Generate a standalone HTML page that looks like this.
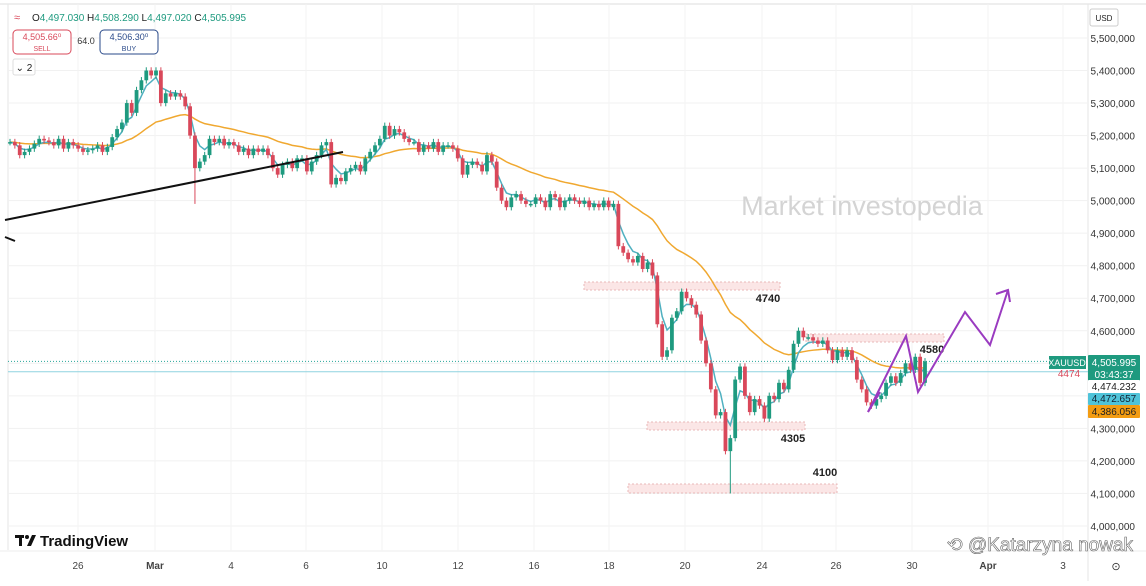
<!DOCTYPE html>
<html><head><meta charset="utf-8"><style>
body{margin:0;width:1146px;height:581px;overflow:hidden;background:#fff;font-family:"Liberation Sans",sans-serif}
svg text{font-family:"Liberation Sans",sans-serif}
</style></head><body>
<svg id="c" width="1146" height="581" xmlns="http://www.w3.org/2000/svg"></svg>
<script>
const closes=[5180,5170,5140,5150,5160,5175,5190,5185,5180,5170,5190,5160,5180,5170,5160,5150,5155,5160,5170,5150,5165,5195,5220,5240,5300,5270,5340,5370,5400,5385,5400,5300,5330,5320,5330,5320,5290,5200,5100,5120,5140,5190,5180,5190,5170,5180,5170,5150,5160,5140,5160,5150,5160,5140,5100,5080,5110,5120,5100,5130,5130,5090,5120,5140,5170,5180,5050,5070,5060,5090,5100,5110,5090,5130,5150,5170,5190,5230,5200,5220,5210,5190,5180,5180,5150,5170,5160,5180,5150,5170,5170,5160,5130,5080,5110,5120,5110,5090,5140,5120,5040,5000,4980,5010,5020,5000,4990,4990,5010,5000,4980,5020,5010,4980,5000,5010,5000,4990,5000,4980,4990,4980,5000,4980,4990,4860,4840,4820,4810,4830,4790,4810,4770,4620,4520,4540,4640,4660,4720,4700,4680,4650,4570,4500,4420,4340,4350,4230,4270,4450,4490,4400,4350,4390,4370,4330,4400,4390,4440,4420,4480,4560,4600,4580,4580,4570,4560,4570,4540,4510,4540,4520,4540,4510,4450,4420,4380,4370,4390,4400,4440,4460,4440,4470,4500,4480,4520,4440,4506];
const spikeIdx=[38,148];
const spikeLow=[4990,4100];
const priceTicks=[5500,5400,5300,5200,5100,5000,4900,4800,4700,4600,4500,4400,4300,4200,4100,4000];
const dateLabels=["26","Mar","4","6","10","12","16","18","20","24","26","30","Apr","3"];
const dateX=[78,155,231,306,382,458,534,609,685,762,836,912,988,1063];
const S=document.getElementById('c');const NS='http://www.w3.org/2000/svg';
function y(p){return 38+(5500-p)*0.3253}
const x0=10,x1=925;function x(i){return x0+i*(x1-x0)/(closes.length-1)}
function el(t,a,p){const e=document.createElementNS(NS,t);for(const k in a)e.setAttribute(k,a[k]);(p||S).appendChild(e);return e}
function tx(s,a){const e=el('text',a);e.textContent=s;return e}
let e=el('rect',{x:0,y:0,width:1146,height:581,fill:'#fff'});
e=el('line',{x1:0,y1:4,x2:1146,y2:4,stroke:'#ddd'});
e=el('line',{x1:8,y1:4,x2:8,y2:550,stroke:'#e6e6e6'});
e=el('line',{x1:0,y1:551,x2:1146,y2:551,stroke:'#eee'});
e=el('line',{x1:1088,y1:4,x2:1088,y2:581,stroke:'#e6e6e6'});
priceTicks.forEach(p=>{
 const g=el('line',{x1:8,y1:y(p),x2:1088,y2:y(p),stroke:'#f1f1f1'});
 
 const t=tx((p*1000).toLocaleString('en-US'),{x:1135,y:y(p)+4,'font-size':10,fill:'#333','text-anchor':'end'});
 
});
dateLabels.forEach((d,i)=>{
 const g=el('line',{x1:dateX[i],y1:4,x2:dateX[i],y2:551,stroke:'#f3f3f3'});
 
 const t=tx(d,{x:dateX[i],y:569,'font-size':10,fill:'#444','text-anchor':'middle','font-weight':d=='Mar'||d=='Apr'?'bold':'normal'});
 
});
e=tx('Market investopedia',{x:862,y:215,'font-size':27,fill:'#d4d4d4','text-anchor':'middle'});

[[584,282,196,8],[806,334,138,8],[647,422,158,8],[628,484,209,9]].forEach(r=>{
 const z=el('rect',{x:r[0],y:r[1],width:r[2],height:r[3],fill:'#fbe6e6',stroke:'#e8b8b8','stroke-dasharray':'2,2'});
 
});
[['4740',768,302],['4305',793,442],['4100',825,476],['4580',932,353]].forEach(a=>{
 const t=tx(a[0],{x:a[1],y:a[2],'font-size':11,'font-weight':'bold',fill:'#222','text-anchor':'middle'});
 
});
e=el('line',{x1:8,y1:y(4506),x2:1088,y2:y(4506),stroke:'#26a69a','stroke-dasharray':'1,2'});

e=el('line',{x1:8,y1:y(4474),x2:1088,y2:y(4474),stroke:'#8fd3e0'});

function ema(n){const k=2/(n+1);let v=closes[0],o=[];closes.forEach(c=>{v=c*k+v*(1-k);o.push(v)});return o}
[[ema(32),'#f0a830'],[ema(4),'#4fb0c0']].forEach(m=>{
 const p=el('polyline',{points:m[0].map((v,i)=>x(i)+','+y(v)).join(' '),fill:'none',stroke:m[1],'stroke-width':1.5});
 
});
const w=(x1-x0)/(closes.length-1)*0.78;
closes.forEach((c,i)=>{
 const o=i?closes[i-1]:c;let hi=Math.max(o,c)+10,lo=Math.min(o,c)-10;
 const si=spikeIdx.indexOf(i);if(si>=0)lo=spikeLow[si];
 const col=c>=o?'#1e9a7f':'#d9485a';
 const g=el('g',{});
 
 el('line',{x1:x(i),y1:y(hi),x2:x(i),y2:y(lo),stroke:col},g);
 el('rect',{x:x(i)-w/2,y:y(Math.max(o,c)),width:w,height:Math.max(1.5,Math.abs(y(o)-y(c))),fill:col},g);
});
e=el('line',{x1:5,y1:220,x2:343,y2:152,stroke:'#111','stroke-width':2});

e=el('line',{x1:5,y1:237,x2:15,y2:241,stroke:'#111','stroke-width':2});
e=el('polyline',{points:'868,412 906,336 918,392 965,312 990,345 1008,290',fill:'none',stroke:'#9a3bc0','stroke-width':2});

e=el('polyline',{points:'996,294 1008,290 1010,302',fill:'none',stroke:'#9a3bc0','stroke-width':2});
e=el('line',{x1:868,y1:412,x2:880,y2:392,stroke:'#9a3bc0','stroke-width':2});
function box(x0,y0,w,h,bg,t,fc,nm,ty){const g=el('g',{});
 el('rect',{x:x0,y:y0,width:w,height:h,fill:bg,rx:1},g);const s=el('text',{x:x0+w/2,y:ty||y0+h-3,'font-size':10,fill:fc,'text-anchor':'middle'},g);s.textContent=t;}
e=el('rect',{x:1049,y:356,width:37,height:13,fill:'#1e9a7f'});
e=tx('XAUUSD',{x:1067,y:366,'font-size':9,fill:'#fff','text-anchor':'middle'});

box(1088,355,52,26,'#1e9a7f','4,505.995','#fff','last-price-label',366);
e=tx('03:43:37',{x:1114,y:378,'font-size':10,fill:'#fff','text-anchor':'middle'});
box(1088,380,52,13,'#fff','4,474.232','#222','level-label-right');
box(1088,393,52,12,'#4fc3d9','4,472.657','#123','fast-ma-label');
box(1088,405,52,13,'#f39c12','4,386.056','#222','slow-ma-label');
e=tx('4474',{x:1069,y:377,'font-size':10,fill:'#d9485a','text-anchor':'middle'});
e=tx('≈',{x:17,y:21,'font-size':11,fill:'#d9485a','text-anchor':'middle'});
e=tx('',{x:32,y:21,'font-size':10,fill:'#222'});
e.innerHTML='O<tspan fill="#1e9a7f">4,497.030</tspan> H<tspan fill="#1e9a7f">4,508.290</tspan> L<tspan fill="#1e9a7f">4,497.020</tspan> C<tspan fill="#1e9a7f">4,505.995</tspan>';

let g=el('g',{});
el('rect',{x:13,y:30,width:58,height:24,rx:4,fill:'#fff',stroke:'#d9485a'},g);
let t=el('text',{x:42,y:40,'font-size':9,fill:'#d9485a','text-anchor':'middle'},g);t.textContent='4,505.66⁰';
t=el('text',{x:42,y:51,'font-size':7,fill:'#d9485a','text-anchor':'middle'},g);t.textContent='SELL';
e=tx('64.0',{x:86,y:44,'font-size':9,fill:'#333','text-anchor':'middle'});
g=el('g',{});
el('rect',{x:100,y:30,width:58,height:24,rx:4,fill:'#fff',stroke:'#2a4a8a'},g);
t=el('text',{x:129,y:40,'font-size':9,fill:'#2a4a8a','text-anchor':'middle'},g);t.textContent='4,506.30⁰';
t=el('text',{x:129,y:51,'font-size':7,fill:'#2a4a8a','text-anchor':'middle'},g);t.textContent='BUY';
g=el('g',{});
el('rect',{x:13,y:59,width:22,height:16,rx:2,fill:'#fff',stroke:'#ddd'},g);
t=el('text',{x:24,y:71,'font-size':10,fill:'#222','text-anchor':'middle'},g);t.textContent='⌄ 2';
g=el('g',{});
el('rect',{x:1090,y:9,width:28,height:17,rx:2,fill:'#fff',stroke:'#ccc'},g);
t=el('text',{x:1104,y:21,'font-size':8,fill:'#222','text-anchor':'middle'},g);t.textContent='USD';
e=tx('TradingView',{x:40,y:546,'font-size':15,'font-weight':'bold',fill:'#111'});

el('rect',{x:15,y:535,width:9,height:3,fill:'#111'});el('rect',{x:19,y:535,width:3,height:11,fill:'#111'});
el('polygon',{points:'27,546 32,535 36,535 31,546',fill:'#111'});el('circle',{cx:27,cy:537,r:2,fill:'#111'});
e=tx('⟲ @Katarzyna nowak',{x:1133,y:551,'font-size':19,fill:'#fff',stroke:'#666','stroke-width':0.6,'text-anchor':'end'});

e=tx('⊙',{x:1116,y:570,'font-size':11,fill:'#333','text-anchor':'middle'});

</script>
</body></html>
